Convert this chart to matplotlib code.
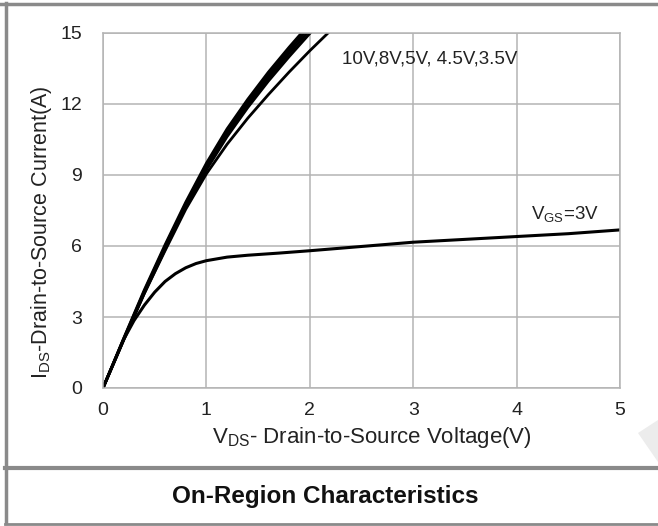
import matplotlib

matplotlib.use("Agg")
import matplotlib.pyplot as plt
from matplotlib.lines import Line2D
from matplotlib.patches import Polygon

plt.rcParams["font.family"] = ["Liberation Sans", "DejaVu Sans"]

# drain-source voltage grid for the high-VGS bundle
V_BUNDLE = [0, 0.2, 0.4, 0.6, 0.8, 1.0, 1.2, 1.4, 1.6, 1.8, 2.0, 2.2]
I_10V = [0, 2.1, 4.15, 6.05, 7.85, 9.5, 10.95, 12.2, 13.35, 14.4, 15.4, 16.3]
I_8V = [0, 2.08, 4.1, 5.98, 7.77, 9.4, 10.84, 12.08, 13.22, 14.27, 15.26, 16.15]
I_5V = [0, 2.05, 4.05, 5.92, 7.7, 9.31, 10.73, 11.96, 13.1, 14.14, 15.12, 16.0]
I_4V5 = [0, 2.02, 4.0, 5.85, 7.62, 9.22, 10.62, 11.85, 12.97, 14.0, 14.98, 15.85]
I_3V5 = [0, 2.05, 4.0, 5.8, 7.55, 9.05, 10.3, 11.4, 12.4, 13.35, 14.25, 15.1]

# VGS = 3V curve
V_3V = [0, 0.1, 0.2, 0.3, 0.4, 0.5, 0.6, 0.7, 0.8, 0.9, 1.0, 1.2, 1.4, 1.7,
        2.0, 2.5, 3.0, 3.5, 4.0, 4.5, 5.0]
I_3V = [0, 1.02, 2.05, 2.85, 3.5, 4.05, 4.5, 4.83, 5.08, 5.26, 5.38, 5.53, 5.61,
        5.7, 5.8, 5.98, 6.16, 6.28, 6.4, 6.52, 6.68]

X_TICKS = [0, 1, 2, 3, 4, 5]
Y_TICKS = [0, 3, 6, 9, 12, 15]

W, H = 658, 526
fig = plt.figure(figsize=(W / 100, H / 100), dpi=100)
ax = fig.add_axes([103 / W, 1 - 388 / H, 517 / W, 355 / H])

for ivals in (I_10V, I_8V, I_5V, I_4V5, I_3V5):
    ax.plot(V_BUNDLE, ivals, color="black", lw=2.0, solid_capstyle="round")
ax.plot(V_3V, I_3V, color="black", lw=2.2)

ax.set_xlim(0, 5)
ax.set_ylim(0, 15)
ax.set_xticks(X_TICKS)
ax.set_yticks(Y_TICKS)
ax.grid(True, color="#b4b4b4", lw=1.1)
ax.set_axisbelow(True)
for sp in ax.spines.values():
    sp.set_color("#b4b4b4")
    sp.set_linewidth(1.1)
ax.tick_params(length=0, labelsize=14, labelcolor="#222222")
ax.tick_params(axis="x", pad=10)
ax.tick_params(axis="y", pad=15)

fig.text(342 / W, 1 - 59 / H, "10V,8V,5V, 4.5V,3.5V", fontsize=13.5,
         color="#222222", va="center")
fig.text(531 / W, 1 - 215 / H, r"V$_{\mathregular{GS}}$=3V", fontsize=13.5,
         color="#222222", va="center")

fig.text(42 / W, 1 - 232 / H, r"I$_{\mathregular{DS}}$-Drain-to-Source Current(A)",
         rotation=90, fontsize=15.5, color="#222222", ha="center", va="center")
fig.text(372 / W, 1 - 437 / H, r"V$_{\mathregular{DS}}$- Drain-to-Source Voltage(V)",
         fontsize=16, color="#222222", ha="center", va="center")

fig.text(325 / W, 1 - 497 / H, "On-Region Characteristics", fontsize=17.5,
         fontweight="bold", color="#111111", ha="center", va="center")

# watermark shape and frame
fig.patches.append(Polygon([(638 / W, 1 - 433 / H), (1.0, 1 - 420 / H), (1.0, 1 - 462 / H)],
                           closed=True, transform=fig.transFigure,
                           facecolor="#ececec", edgecolor="none"))
frame = "#8a8a8a"
fig.lines.append(Line2D([0, 1], [1 - 3.5 / H] * 2, transform=fig.transFigure, color=frame, lw=2.5))
fig.lines.append(Line2D([5.5 / W] * 2, [1 - 3 / H, 1 - 523 / H], transform=fig.transFigure, color=frame, lw=2.5))
fig.lines.append(Line2D([5 / W, 657 / W], [1 - 468 / H] * 2, transform=fig.transFigure, color=frame, lw=3))
fig.lines.append(Line2D([5 / W, 1], [1 - 523.5 / H] * 2, transform=fig.transFigure, color=frame, lw=2.0))

fig.savefig("out.png", dpi=100)
